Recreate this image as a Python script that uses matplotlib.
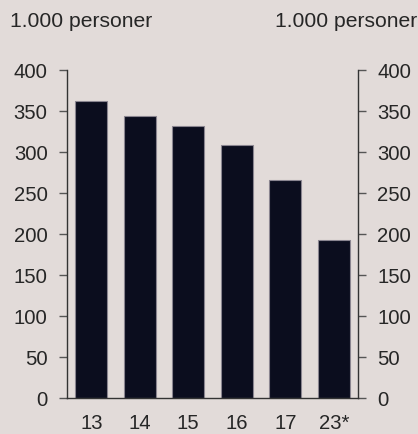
import numpy as np
import matplotlib.pyplot as plt

plt.rcParams['font.family'] = ['Liberation Sans', 'DejaVu Sans']

years = ['13', '14', '15', '16', '17', '23*']
persons = [362, 344, 331, 308, 266, 192]

bg = '#e2dbd9'
barcol = '#0b0d1e'
txt = '#262626'

fig = plt.figure(figsize=(4.18, 4.35), dpi=100, facecolor=bg)
ax = fig.add_axes([0.1603, 0.0834, 0.6962, 0.7541])
ax.set_facecolor(bg)

x = np.arange(len(years))
ax.bar(x, persons, width=0.66, color=barcol, edgecolor='#8a8590', linewidth=0.8)

ax.set_xlim(-0.5, len(years) - 0.5)
ax.set_ylim(0, 400)
ax.set_yticks(np.arange(0, 401, 50))
ax.set_xticks(x)
ax.set_xticklabels(years)

ax.spines['top'].set_visible(False)
for s in ['left', 'right', 'bottom']:
    ax.spines[s].set_color('#333333')
    ax.spines[s].set_linewidth(1.0)

ax.tick_params(axis='y', which='both', direction='out', length=6, width=1,
               color='#555555', labelsize=14.6, labelcolor=txt,
               left=True, right=True, labelleft=True, labelright=True, pad=8)
ax.tick_params(axis='x', length=0, labelsize=14.6, labelcolor=txt, pad=11)

fig.text(0.024, 0.950, '1.000 personer', fontsize=15.2, color=txt, ha='left', va='center')
fig.text(0.999, 0.950, '1.000 personer', fontsize=15.2, color=txt, ha='right', va='center')

fig.savefig('out.png', dpi=100, facecolor=bg)
